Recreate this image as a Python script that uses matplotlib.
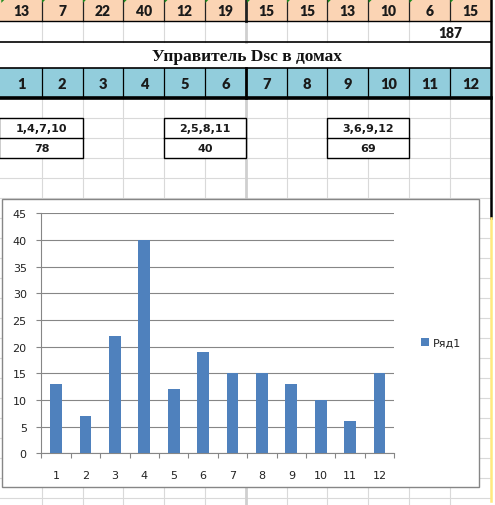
import matplotlib
matplotlib.use("Agg")
import matplotlib.pyplot as plt
from matplotlib.patches import Rectangle, Polygon

# ---------------- data ----------------
houses = [1, 2, 3, 4, 5, 6, 7, 8, 9, 10, 11, 12]
values = [13, 7, 22, 40, 12, 19, 15, 15, 13, 10, 6, 15]
total_label = "187"
title_text = "Управитель Dsc в домах"
group_labels = ["1,4,7,10", "2,5,8,11", "3,6,9,12"]
group_sums = ["78", "40", "69"]
series_name = "Ряд1"
y_ticks = [0, 5, 10, 15, 20, 25, 30, 35, 40, 45]

W, H = 495, 506
fig = plt.figure(figsize=(W / 100, H / 100), dpi=100)
bg = fig.add_axes([0, 0, 1, 1])
bg.set_xlim(0, W)
bg.set_ylim(H, 0)
bg.axis("off")

cx = [0.9 + 40.82 * i for i in range(13)]
r1, r2, r3, r4 = 22.3, 43.3, 68.7, 98.7
peach = "#FBD4B4"
aqua = "#92CDDC"
light = "#D9D9D9"
cellfont = dict(family="Lato", weight="heavy")
boxfont = dict(family="DejaVu Sans", weight="bold")

# row fills
bg.add_patch(Rectangle((0, 0), cx[-1], r1, facecolor=peach, edgecolor="none", zorder=1))
bg.add_patch(Rectangle((0, r3), cx[-1], r4 - r3, facecolor=aqua, edgecolor="none", zorder=1))

# lower grid (light)
y = r4
rows = []
while y < H:
    rows.append(y)
    y += 20
for yy in rows[1:]:
    bg.plot([0, cx[-1]], [yy, yy], color=light, lw=0.8, zorder=1)
for i, x in enumerate(cx[1:-1], start=1):
    lw = 2.0 if i == 6 else 0.8
    col = "#CFCFCF" if i == 6 else light
    bg.plot([x, x], [r4, H], color=col, lw=lw, zorder=1)
    if i != 11:
        bg.plot([x, x], [r1, r2], color=col, lw=lw, zorder=1)

# group boxes
box_cols = [(0, 2), (4, 6), (8, 10)]
for (a, b), lab, s in zip(box_cols, group_labels, group_sums):
    x0 = cx[a] if a > 0 else -1
    x1 = cx[b]
    top = r4 + 20
    bg.add_patch(Rectangle((x0, top), x1 - x0, 40, facecolor="white",
                           edgecolor="black", lw=1.0, zorder=3))
    bg.plot([x0, x1], [top + 20, top + 20], color="black", lw=1.0, zorder=3)
    xm = (cx[a] + cx[b]) / 2
    bg.text(xm, top + 10.5, lab, ha="center", va="center", fontsize=8, color="#1a1a1a",
            zorder=4, **boxfont)
    bg.text(xm, top + 30.5, s, ha="center", va="center", fontsize=8, color="#1a1a1a",
            zorder=4, **boxfont)

# header verticals
for i, x in enumerate(cx[1:-1], start=1):
    lw = 2.0 if i == 6 else 0.9
    bg.plot([x, x], [0, r1], color="#222222", lw=lw, zorder=2)
    bg.plot([x, x], [r3, r4], color="black", lw=lw, zorder=2)

# horizontal borders
for yy, lw in [(r1, 1.0), (r2, 1.2), (r3, 1.2), (r4, 2.6)]:
    bg.plot([0, cx[-1]], [yy, yy], color="black", lw=lw, zorder=3)

# right border
bg.plot([cx[-1], cx[-1]], [0, 219], color="black", lw=1.8, zorder=3)
bg.plot([cx[-1], cx[-1]], [219, 502], color="#FFE97F", lw=1.8, zorder=3)

# green triangles + header texts
for i, v in enumerate(values):
    x0 = cx[i] + (1.2 if i == 6 else 0.4)
    bg.add_patch(Polygon([[x0, 0.3], [x0 + 3.6, 0.3], [x0, 3.9]], closed=True,
                         facecolor="#1E8C1E", edgecolor="none", zorder=4))
    xm = (cx[i] + cx[i + 1]) / 2
    bg.text(xm, r1 / 2 + 0.8, str(v), ha="center", va="center", fontsize=10, color="#1a1a1a",
            zorder=4, **cellfont)
    bg.text(xm, (r3 + r4) / 2 + 1, str(houses[i]), ha="center", va="center", fontsize=10.5,
            color="#1a1a1a", zorder=4, **cellfont)

bg.text(cx[11], (r1 + r2) / 2 + 0.5, total_label, ha="center", va="center", fontsize=10,
        color="#1a1a1a", zorder=4, **cellfont)
bg.text(246.5, (r2 + r3) / 2 + 0.5, title_text, ha="center", va="center",
        fontsize=12.5, family="Liberation Serif", weight="bold", color="#111111", zorder=4)

# chart area
bg.add_patch(Rectangle((1.7, 199.5), 479.3 - 1.7, 488 - 199.5, facecolor="white",
                       edgecolor="#868686", lw=1.0, zorder=5))

ax_l, ax_r = 41.3, 394.3
ax_t, ax_b = 214.3, 454.3
ax = fig.add_axes([ax_l / W, 1 - ax_b / H, (ax_r - ax_l) / W, (ax_b - ax_t) / H])
ax.set_zorder(6)
ax.patch.set_alpha(0)
bars = ax.bar(houses, values, width=0.4, color="#4F81BD", zorder=3, label=series_name)
ax.set_xlim(0.5, 12.5)
ax.set_ylim(0, 45)
ax.set_yticks(y_ticks)
ax.yaxis.grid(True, color="#868686", lw=0.8, zorder=0)
ax.set_axisbelow(True)
for s in ["top", "right"]:
    ax.spines[s].set_visible(False)
for s in ["left", "bottom"]:
    ax.spines[s].set_color("#868686")
    ax.spines[s].set_linewidth(0.8)
ax.set_xticks(houses)
ax.set_xticks([h + 0.5 for h in [0] + houses], minor=True)
ax.tick_params(axis="x", which="major", length=0, pad=12, labelsize=8, labelcolor="#222222")
ax.tick_params(axis="x", which="minor", length=3.5, width=0.8, color="#868686", direction="out")
ax.tick_params(axis="y", which="major", length=3.5, width=0.8, color="#868686", direction="out",
               pad=7, labelsize=8, labelcolor="#222222")
for t in ax.get_xticklabels() + ax.get_yticklabels():
    t.set_family("DejaVu Sans")

leg = ax.legend(handles=[bars], labels=[series_name], loc="center left",
                bbox_to_anchor=(413 / W, 1 - 344 / H), bbox_transform=fig.transFigure,
                frameon=False, fontsize=8, handlelength=0.7, handleheight=0.7,
                handletextpad=0.35, borderpad=0.2)
for t in leg.get_texts():
    t.set_color("#222222")

fig.savefig("out.png", dpi=100)
